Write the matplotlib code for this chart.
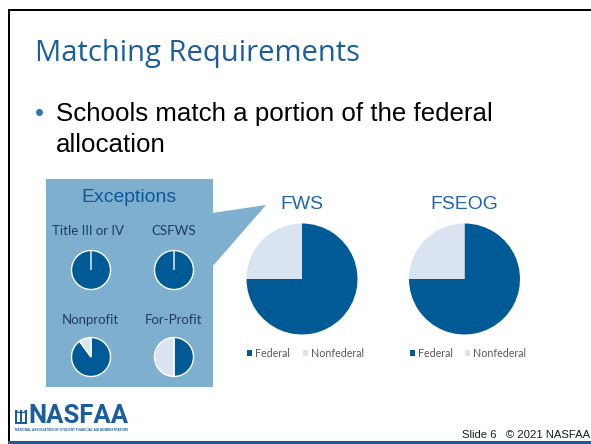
import matplotlib
matplotlib.use("Agg")
import matplotlib.pyplot as plt
from matplotlib.patches import Rectangle, Polygon, Circle, Wedge

# ---------------- data ----------------
slide_title = "Matching Requirements"
bullet_lines = ["Schools match a portion of the federal", "allocation"]

main_charts = ["FWS", "FSEOG"]
main_federal = [75, 75]
main_nonfederal = [25, 25]
legend_labels = ["Federal", "Nonfederal"]

panel_title = "Exceptions"
exception_labels = ["Title III or IV", "CSFWS", "Nonprofit", "For-Profit"]
exception_federal = [100, 100, 90, 50]
exception_nonfederal = [0, 0, 10, 50]

footer_text = "Slide 6   \u00a9 2021 NASFAA"
logo_text = "NASFAA"
logo_sub = "NATIONAL ASSOCIATION OF STUDENT FINANCIAL AID ADMINISTRATORS"

# ---------------- style ----------------
DARK = "#005A96"
LIGHT = "#DAE3F0"
PANEL = "#7FAFCF"
TITLE_BLUE = "#1A5E9E"
CHART_TITLE = "#2166AA"
EXC_TITLE = "#0E5898"
EXC_LABEL = "#1F3A68"
LEGEND_TXT = "#595959"
BAR_BLUE = "#1F5A96"

W, H = 591, 444
fig = plt.figure(figsize=(W / 100, H / 100), dpi=100)
fig.patch.set_facecolor("white")
bg = fig.add_axes([0, 0, 1, 1])
bg.set_xlim(0, W)
bg.set_ylim(H, 0)
bg.axis("off")
renderer = fig.canvas.get_renderer()


def fit(ax, x, y, s, width, **kw):
    t = ax.text(x, y, s, fontsize=10, **kw)
    w = t.get_window_extent(renderer).width
    t.set_fontsize(10 * width / w)
    return t


# slide frame
bg.add_patch(Rectangle((7.5, 9), W - 7.5, 2, color="black", lw=0))
bg.add_patch(Rectangle((7.5, 9), 2, 432, color="black", lw=0))
bg.add_patch(Rectangle((7.5, 440.5), W - 7.5, 4, color=BAR_BLUE, lw=0))

# title and bullet
fit(bg, 35, 61, slide_title, 325, family="Open Sans", color=TITLE_BLUE,
    ha="left", va="baseline")
t1 = fit(bg, 56, 121, bullet_lines[0], 438, family="Liberation Sans",
         color="black", ha="left", va="baseline")
fs_b = t1.get_fontsize()
bg.text(56, 152, bullet_lines[1], fontsize=fs_b, family="Liberation Sans",
        color="black", ha="left", va="baseline")
bg.text(40, 121, "\u2022", fontsize=fs_b, family="Liberation Sans",
        color="#2E75B6", ha="center", va="baseline")

# exceptions panel with callout
bg.add_patch(Rectangle((46, 179), 167, 208, color=PANEL, lw=0))
bg.add_patch(Polygon([(212, 213), (266, 205), (212, 267)], closed=True,
                     color=PANEL, lw=0))
fit(bg, 129, 201.5, panel_title, 95, family="Liberation Sans",
    color=EXC_TITLE, ha="center", va="baseline")

lab_pos = [(88, 235), (174, 235), (90.5, 324), (174, 324)]
pie_pos = [(91, 270), (174, 270), (91, 357), (174, 357)]
t = fit(bg, lab_pos[0][0], lab_pos[0][1], exception_labels[0], 72,
        family="Lato", color=EXC_LABEL, ha="center", va="baseline")
fs_l = t.get_fontsize()
for (lx, ly), lab in zip(lab_pos[1:], exception_labels[1:]):
    bg.text(lx, ly, lab, fontsize=fs_l, family="Lato", color=EXC_LABEL,
            ha="center", va="baseline")


def pie_axes(cx, cy, r, pad):
    R = r + pad
    ax = fig.add_axes([(cx - R) / W, (H - cy - R) / H, 2 * R / W, 2 * R / H])
    return ax, R / r


for (cx, cy), fed, non in zip(pie_pos, exception_federal, exception_nonfederal):
    ax, lim = pie_axes(cx, cy, 19.5, 2)
    ax.pie([fed, non], colors=[DARK, LIGHT], startangle=90, counterclock=False,
           radius=1, wedgeprops=dict(edgecolor="white", linewidth=1.0))
    ax.set_xlim(-lim, lim)
    ax.set_ylim(-lim, lim)
    ax.set_aspect("equal")
    ax.axis("off")

# main pies
main_pos = [(302, 279), (464.5, 279)]
title_fs = None
for (cx, cy), name, fed, non in zip(main_pos, main_charts, main_federal,
                                    main_nonfederal):
    ax, lim = pie_axes(cx, cy, 55.5, 1)
    wedges, _ = ax.pie([fed, non], colors=[DARK, LIGHT], startangle=90,
                       counterclock=False, radius=1,
                       wedgeprops=dict(linewidth=0))
    ax.set_xlim(-lim, lim)
    ax.set_ylim(-lim, lim)
    ax.set_aspect("equal")
    ax.axis("off")
    if title_fs is None:
        tt = fit(bg, cx, 209, name, 43, family="Liberation Sans",
                 color=CHART_TITLE, ha="center", va="baseline")
        title_fs = tt.get_fontsize()
    else:
        bg.text(cx, 209, name, fontsize=title_fs, family="Liberation Sans",
                color=CHART_TITLE, ha="center", va="baseline")
    leg = ax.legend(wedges, legend_labels, loc="center", ncol=2,
                    bbox_to_anchor=((cx + 3.5) / W, 1 - 353.5 / H),
                    bbox_transform=fig.transFigure, frameon=False,
                    prop=dict(family="Lato", size=7.7),
                    handlelength=0.47, handleheight=0.47, handletextpad=0.3,
                    columnspacing=1.15, borderpad=0, borderaxespad=0)
    for txt in leg.get_texts():
        txt.set_color(LEGEND_TXT)

# footer
fit(bg, 590, 437.5, footer_text, 128, family="Liberation Sans", color="#1a1a1a",
    ha="right", va="baseline")

# logo
bg.add_patch(Rectangle((15, 410), 12, 14, color=TITLE_BLUE, lw=0))
bg.add_patch(Wedge((21, 410), 6, 0, 180, color=TITLE_BLUE, lw=0))
for hx in (18.7, 23.3):
    bg.add_patch(Circle((hx, 410.5), 1.4, color="white", lw=0))
    bg.add_patch(Rectangle((hx - 1.3, 413), 2.6, 8.5, color="white", lw=0))
fit(bg, 28.5, 423, logo_text, 100, family="Roboto", weight="bold",
    color=TITLE_BLUE, ha="left", va="baseline")
fit(bg, 15, 431, logo_sub, 113, family="Liberation Sans", weight="bold",
    color=TITLE_BLUE, ha="left", va="baseline")

fig.savefig("out.png", dpi=100, facecolor="white")
